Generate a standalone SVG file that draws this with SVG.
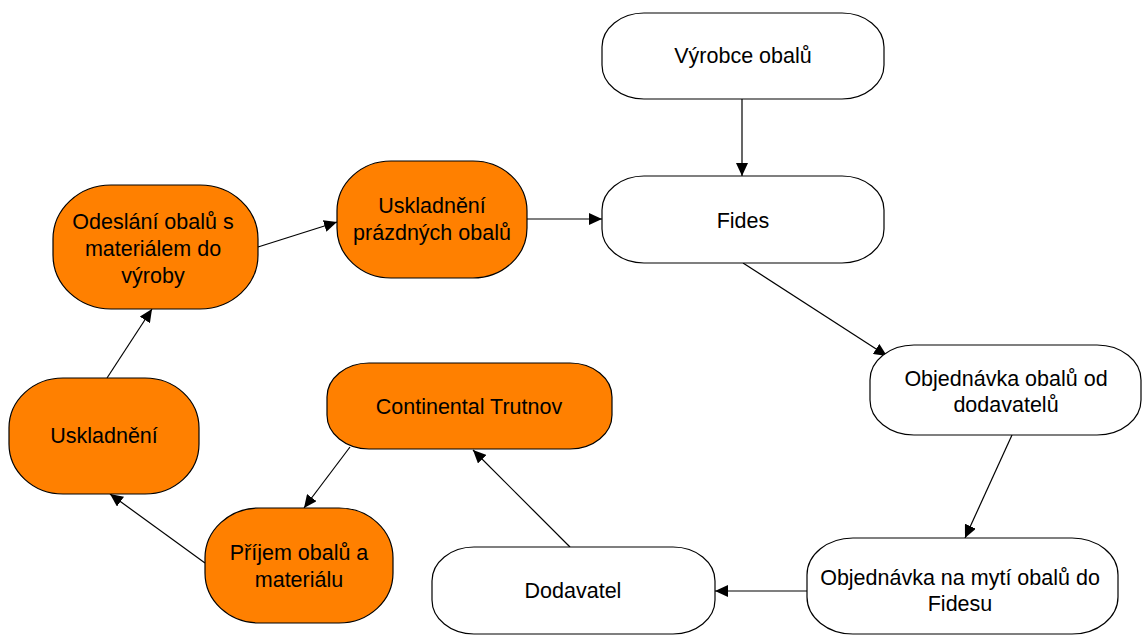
<svg xmlns="http://www.w3.org/2000/svg" width="1142" height="637" viewBox="0 0 1142 637">
<style>
.w{fill:#ffffff;stroke:#000000;stroke-width:1.2}
.o{fill:#ff8000;stroke:#000000;stroke-width:1.2}
text{font-family:"Liberation Sans",Arial,sans-serif;font-size:21.5px;fill:#000000;text-anchor:middle}
.c line{stroke:#000000;stroke-width:1.2;marker-end:url(#ah)}
</style>
<defs>
<marker id="ah" markerUnits="userSpaceOnUse" markerWidth="14" markerHeight="12" refX="13" refY="6" orient="auto">
<path d="M0,0 L13,6 L0,12 z" fill="#000000"/>
</marker>
</defs>
<rect width="1142" height="637" fill="#ffffff"/>
<g class="c" id="connectors">
<line x1="742" y1="99" x2="742" y2="176"/>
<line x1="527" y1="219" x2="602" y2="219"/>
<line x1="743" y1="263" x2="887" y2="356"/>
<line x1="1012" y1="435" x2="965" y2="538"/>
<line x1="807" y1="591" x2="715" y2="591"/>
<line x1="570" y1="547" x2="473" y2="450"/>
<line x1="350" y1="447" x2="304" y2="508"/>
<line x1="205" y1="563" x2="110" y2="494"/>
<line x1="107" y1="378" x2="152" y2="309"/>
<line x1="258" y1="247" x2="337" y2="222"/>
</g>
<g id="vyrobce">
<rect class="w" x="602" y="13" width="282" height="86" rx="42" ry="34"/>
<text x="743" y="63">Výrobce obalů</text>
</g>
<g id="fides">
<rect class="w" x="602" y="176" width="282" height="87" rx="42" ry="34"/>
<text x="743" y="228">Fides</text>
</g>
<g id="obj-obalu">
<rect class="w" x="870" y="345" width="271" height="90" rx="44" ry="35"/>
<text x="1006" y="386">Objednávka obalů od</text>
<text x="1006" y="412">dodavatelů</text>
</g>
<g id="obj-myti">
<rect class="w" x="807" y="538" width="311" height="96" rx="46" ry="37"/>
<text x="960" y="585">Objednávka na mytí obalů do</text>
<text x="960" y="611">Fidesu</text>
</g>
<g id="dodavatel">
<rect class="w" x="432" y="547" width="283" height="87" rx="42" ry="34"/>
<text x="573" y="598">Dodavatel</text>
</g>
<g id="continental">
<rect class="o" x="327" y="363" width="285" height="86" rx="42" ry="34"/>
<text x="469" y="414">Continental Trutnov</text>
</g>
<g id="prijem">
<rect class="o" x="205" y="508" width="188" height="115" rx="54" ry="50"/>
<text x="299" y="560">Příjem obalů a</text>
<text x="299" y="587">materiálu</text>
</g>
<g id="uskladneni">
<rect class="o" x="9" y="378" width="190" height="116" rx="54" ry="50"/>
<text x="104" y="443">Uskladnění</text>
</g>
<g id="odeslani">
<rect class="o" x="53" y="185" width="205" height="124" rx="58" ry="54"/>
<text x="153" y="229">Odeslání obalů s</text>
<text x="153" y="256">materiálem do</text>
<text x="153" y="283">výroby</text>
</g>
<g id="uskladneni-prazdnych">
<rect class="o" x="337" y="161" width="190" height="117" rx="54" ry="50"/>
<text x="432" y="213">Uskladnění</text>
<text x="432" y="240">prázdných obalů</text>
</g>
</svg>
